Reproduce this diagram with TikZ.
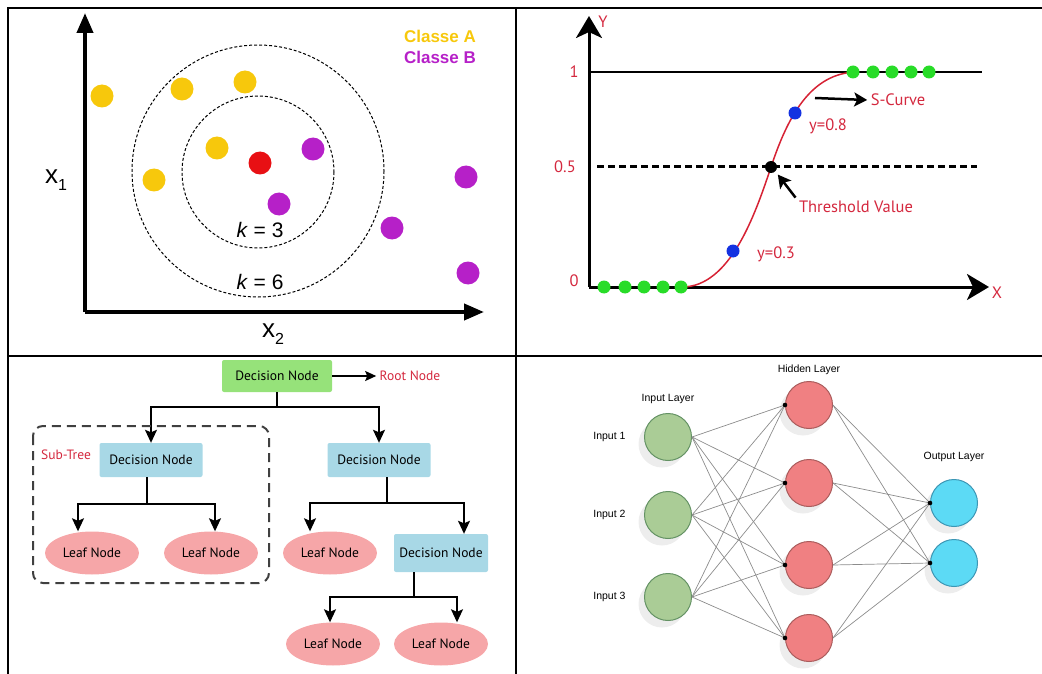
\documentclass[tikz,border=0pt]{standalone}
\usepackage{fontspec}
\setmainfont{Liberation Sans}
\newfontfamily\humfont{PT Sans}
\usetikzlibrary{arrows.meta, positioning, shapes.geometric, shadows}

\definecolor{classA}{RGB}{247,200,12}
\definecolor{classB}{RGB}{182,32,200}
\definecolor{query}{RGB}{232,16,20}
\definecolor{labelred}{RGB}{212,40,62}
\definecolor{curvered}{RGB}{214,34,52}
\definecolor{ongreen}{RGB}{40,220,40}
\definecolor{midblue}{RGB}{20,50,225}
\definecolor{rootgreen}{RGB}{150,226,122}
\definecolor{decblue}{RGB}{168,216,230}
\definecolor{leafpink}{RGB}{246,166,168}
\definecolor{ingreen}{RGB}{170,204,150}
\definecolor{inborder}{RGB}{100,146,100}
\definecolor{hidred}{RGB}{240,128,130}
\definecolor{hidborder}{RGB}{170,92,92}
\definecolor{outcyan}{RGB}{92,218,245}
\definecolor{outborder}{RGB}{60,150,180}

\begin{document}
\begin{tikzpicture}[
    x=1pt, y=-1pt,
    node distance=10pt,
    frame/.style={
        line width=2pt
    },
    knnaxis/.style={
        line width=4pt,
        -{Triangle[length=20pt, width=16pt]}
    },
    ring/.style={
        dashed,
        dash pattern=on 3pt off 2pt,
        line width=1pt
    },
    knndot/.style={
        circle,
        inner sep=0pt,
        minimum size=23pt
    },
    sigaxis/.style={
        line width=3pt,
        -{Stealth[length=22pt, width=26pt, inset=6pt]}
    },
    sigdot/.style={
        circle,
        inner sep=0pt,
        minimum size=13pt
    },
    siglabel/.style={
        text=labelred,
        font=\humfont\fontsize{16.5}{18}\selectfont
    },
    pointer/.style={
        line width=2.5pt,
        -{Stealth[length=13pt, width=14pt, inset=3pt]}
    },
    decision/.style={
        fill=decblue,
        rounded corners=2pt,
        align=center,
        minimum width=103pt,
        minimum height=34pt,
        font=\humfont\fontsize{13.5}{15}\selectfont
    },
    leaf/.style={
        ellipse,
        fill=leafpink,
        minimum width=94pt,
        minimum height=43pt,
        inner sep=0pt,
        font=\humfont\fontsize{13.5}{15}\selectfont
    },
    branch/.style={
        line width=1.5pt,
        -{Stealth[length=13pt, width=12pt, inset=2.5pt]}
    },
    subtree/.style={
        dashed,
        dash pattern=on 9pt off 6pt,
        line width=2pt,
        draw=black!75,
        rounded corners=10pt
    },
    neuron/.style={
        circle,
        draw,
        line width=1pt,
        minimum size=47pt,
        inner sep=0pt,
        drop shadow={shadow xshift=-6pt, shadow yshift=-7pt, fill=black, opacity=0.07}
    },
    synapse/.style={
        draw=black!45,
        line width=0.7pt
    },
    netlabel/.style={
        font=\fontsize{10.5}{12}\selectfont
    }
]
\useasboundingbox (0,0) rectangle (1042,674);

% panel frame
\draw[frame] (8,674) -- (8,8) -- (1042,8);
\draw[frame] (516,8) -- (516,674);
\draw[frame] (8,356) -- (1042,356);

% ---- k nearest neighbours ----
\coordinate (knnO) at (85,312);
\draw[knnaxis] (knnO) -- (85,13);
\draw[knnaxis] (knnO) -- (484,312);
\node (xone) at (56,180) {\fontsize{26}{28}\selectfont x\raisebox{-7pt}{\fontsize{16}{18}\selectfont 1}};
\node (xtwo) at (273,334) {\fontsize{26}{28}\selectfont x\raisebox{-7pt}{\fontsize{16}{18}\selectfont 2}};

\draw[ring] (258,171) circle (126);
\draw[ring] (258,172) circle (76);
\node (kthree) at (260,230) {\fontsize{21}{23}\selectfont\textit{k} = 3};
\node (ksix) at (260,282) {\fontsize{21}{23}\selectfont\textit{k} = 6};

\node[text=classA, font=\bfseries\fontsize{17}{19}\selectfont] (lblA) at (440,36) {Classe A};
\node[text=classB, font=\bfseries\fontsize{17}{19}\selectfont] (lblB) at (440,57) {Classe B};

\foreach \px/\py [count=\n] in {102/96, 182/89, 245/82, 217/148, 154/180}
    \node[knndot, fill=classA] (a\n) at (\px,\py) {};
\foreach \px/\py [count=\n] in {313/149, 279/204, 392/228, 466/177, 468/273}
    \node[knndot, fill=classB] (b\n) at (\px,\py) {};
\node[knndot, fill=query] (newpt) at (260,163) {};

% ---- logistic curve ----
\coordinate (sigO) at (589,287);
\draw[sigaxis] (sigO) -- (589,16);
\draw[sigaxis] (sigO) -- (989,287);
\node[siglabel] (ylbl) at (603,22) {Y};
\node[siglabel] (xlbl) at (997,293) {X};
\draw[line width=1.5pt] (589,72) -- (982,72);
\draw[dashed, dash pattern=on 7pt off 4pt, line width=3pt] (597,167) -- (977,167);
\node[siglabel] (tick1) at (574,72) {1};
\node[siglabel] (tickhalf) at (565,167) {0.5};
\node[siglabel] (tick0) at (574,281) {0};

\draw[curvered, line width=1.5pt] (682,287) .. controls (730,287) and (755,215) .. (771,167)
    .. controls (787,119) and (810,72) .. (858,72);

\foreach \px [count=\n] in {604,625,644,663,681}
    \node[sigdot, fill=ongreen] (low\n) at (\px,287) {};
\foreach \px [count=\n] in {853,873,892,911,929}
    \node[sigdot, fill=ongreen] (high\n) at (\px,72) {};
\node[sigdot, fill=midblue] (p03) at (733,251) {};
\node[sigdot, fill=midblue] (p08) at (795,113) {};
\node[sigdot, fill=black, minimum size=12pt] (thrdot) at (771,167) {};

\node[siglabel] (lbl08) at (828,126) {y=0.8};
\node[siglabel] (lbl03) at (776,254) {y=0.3};
\node[siglabel] (scurve) at (898,100) {S-Curve};
\coordinate (scurvetail) at (815,98);
\draw[pointer] (scurvetail) -- (scurve.west);
\node[siglabel] (thresh) at (856,207) {Threshold Value};
\draw[pointer, shorten >=4pt] (thresh.north west) -- (thrdot.south east);

% ---- decision tree ----
\node[decision, fill=rootgreen, minimum width=110pt, minimum height=32pt] (root) at (277,376) {Decision Node};
\node[siglabel, font=\humfont\fontsize{13.5}{15}\selectfont, right=44pt of root] (rootlbl) {Root Node};
\draw[line width=1.5pt, -{Stealth[length=11pt, width=10pt, inset=2pt]}] (root.east) -- (rootlbl.west);

\node[decision] (decL) at (151,460) {Decision Node};
\node[decision] (decR) at (379,460) {Decision Node};
\node[leaf] (leafLL) at (92,553) {Leaf Node};
\node[leaf] (leafLR) at (211,553) {Leaf Node};
\node[leaf] (leafRL) at (330,553) {Leaf Node};
\node[decision, minimum width=94pt, minimum height=38pt] (decRR) at (441,553) {Decision Node};
\node[leaf] (leafB1) at (333,644) {Leaf Node};
\node[leaf] (leafB2) at (441,644) {Leaf Node};

\draw[branch] (root.south) -- ++(0,15) -| (decL.north);
\draw[branch] (root.south) -- ++(0,15) -| (decR.north);
\draw[branch] ([xshift=-4pt]decL.south) -- ++(0,27) -| ([xshift=-14pt]leafLL.north);
\draw[branch] ([xshift=-4pt]decL.south) -- ++(0,27) -| ([xshift=4pt]leafLR.north);
\draw[branch] ([xshift=8pt]decR.south) -- ++(0,26) -| ([xshift=-20pt]leafRL.north);
\draw[branch] ([xshift=8pt]decR.south) -- ++(0,26) -| ([xshift=23pt]decRR.north);
\draw[branch] ([xshift=-27pt]decRR.south) -- ++(0,25) -| ([xshift=-3pt]leafB1.north);
\draw[branch] ([xshift=-27pt]decRR.south) -- ++(0,25) -| ([xshift=16pt]leafB2.north);

\draw[subtree] (33,426) rectangle (269,583);
\node[siglabel, font=\humfont\fontsize{13.5}{15}\selectfont] (sublbl) at (66,455) {Sub-Tree};

% ---- neural network ----
\foreach \py [count=\n] in {437,515,597}
    \node[neuron, fill=ingreen, draw=inborder] (in\n) at (668,\py) {};
\foreach \py [count=\n] in {405,483,565,638}
    \node[neuron, fill=hidred, draw=hidborder] (hid\n) at (809,\py) {};
\foreach \py [count=\n] in {503,563}
    \node[neuron, fill=outcyan, draw=outborder] (out\n) at (954,\py) {};

\foreach \i in {1,2,3}
    \foreach \h in {1,...,4}
        \draw[synapse] (in\i.east) -- (hid\h.west);
\foreach \h in {1,...,4}
    \foreach \o in {1,2}
        \draw[synapse] (hid\h.east) -- (out\o.west);
\foreach \h in {1,...,4}
    \fill (hid\h.west) circle (2.3);
\foreach \o in {1,2}
    \fill (out\o.west) circle (2.3);

\node[netlabel, above=6pt of in1] (inlbl) {Input Layer};
\node[netlabel, above=3pt of hid1] (hidlbl) {Hidden Layer};
\node[netlabel, above=14pt of out1] (outlbl) {Output Layer};
\foreach \n in {1,2,3}
    \node[netlabel, left=15pt of in\n] (inname\n) {Input \n};

\end{tikzpicture}
\end{document}
